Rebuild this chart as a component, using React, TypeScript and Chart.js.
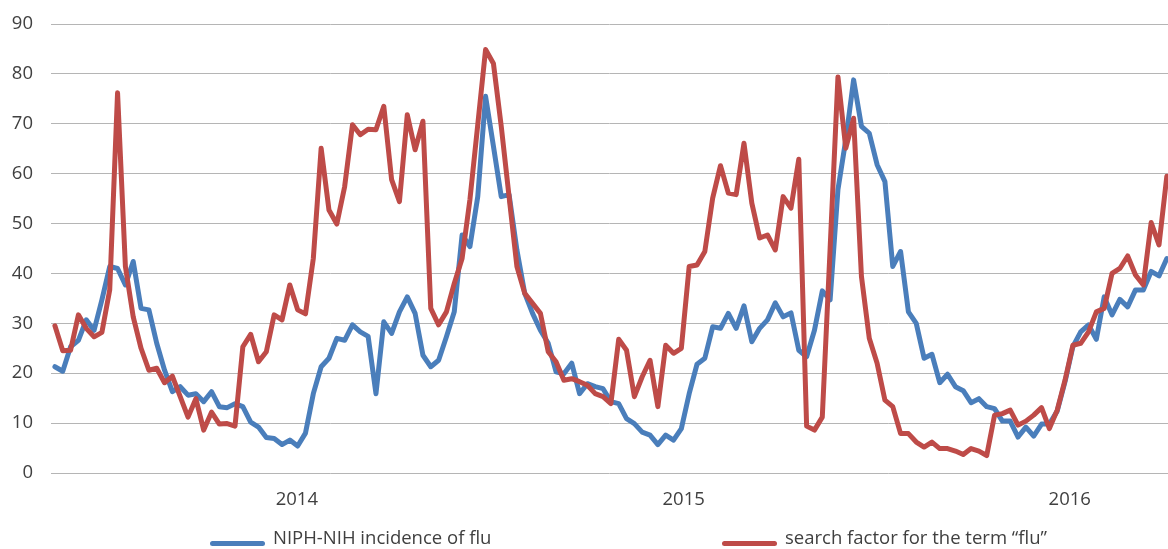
import React, { useEffect, useRef } from "react";
import { Chart, registerables } from "chart.js";

Chart.register(...registerables);

// Weekly values
const incidence: number[] = [
  21.3, 20.4, 25.3, 26.6, 30.7, 28.6, 34.7, 41.4, 41.0, 37.7,
  42.4, 33.0, 32.7, 26.0, 20.6, 16.3, 17.3, 15.6, 15.9, 14.3,
  16.3, 13.3, 13.1, 13.9, 13.3, 10.2, 9.2, 7.1, 6.9, 5.7,
  6.6, 5.4, 8.0, 15.9, 21.3, 23.0, 27.0, 26.6, 29.7, 28.3,
  27.4, 15.9, 30.3, 28.0, 32.3, 35.3, 32.0, 23.6, 21.3, 22.6,
  27.3, 32.3, 47.7, 45.4, 55.4, 75.5, 65.5, 55.4, 55.8, 44.7,
  36.0, 32.0, 28.6, 26.0, 20.3, 19.9, 22.0, 15.9, 17.9, 17.3,
  16.9, 14.3, 13.9, 10.9, 9.9, 8.2, 7.6, 5.7, 7.6, 6.6,
  8.9, 15.9, 21.8, 23.0, 29.3, 29.0, 32.0, 29.0, 33.5, 26.3,
  29.0, 30.7, 34.1, 31.3, 32.1, 24.6, 23.3, 28.6, 36.5, 34.7,
  56.8, 66.8, 78.8, 69.5, 68.1, 61.8, 58.4, 41.4, 44.4, 32.3,
  30.0, 23.0, 23.8, 18.1, 19.8, 17.3, 16.5, 14.1, 14.9, 13.3,
  12.9, 10.4, 10.4, 7.2, 9.2, 7.4, 9.8, 9.8, 12.4, 18.3,
  25.3, 28.3, 29.7, 26.8, 35.3, 31.7, 34.8, 33.3, 36.7, 36.7,
  40.4, 39.5, 43.0,
];

const searchFactor: number[] = [
  29.5, 24.5, 24.6, 31.7, 29.0, 27.3, 28.2, 36.7, 76.2, 41.4,
  31.3, 25.0, 20.6, 21.0, 18.1, 19.4, 15.3, 11.2, 14.9, 8.6,
  12.2, 9.8, 9.9, 9.4, 25.3, 27.8, 22.3, 24.3, 31.7, 30.7,
  37.7, 32.7, 31.9, 43.0, 65.1, 52.7, 49.9, 57.4, 69.8, 67.8,
  68.9, 68.8, 73.5, 58.8, 54.4, 71.8, 64.8, 70.5, 33.0, 29.7,
  32.3, 38.0, 43.0, 54.8, 69.8, 84.9, 82.1, 69.5, 55.4, 41.4,
  36.0, 34.0, 32.0, 24.3, 22.3, 18.6, 18.9, 18.3, 17.6, 15.9,
  15.3, 13.9, 26.8, 24.6, 15.3, 19.3, 22.6, 13.3, 25.6, 24.0,
  25.0, 41.4, 41.7, 44.4, 55.1, 61.6, 56.1, 55.8, 66.1, 54.1,
  47.1, 47.7, 44.7, 55.4, 53.1, 62.9, 9.4, 8.6, 11.2, 45.0,
  79.4, 65.1, 71.1, 39.4, 27.0, 22.0, 14.6, 13.3, 7.9, 7.9,
  6.2, 5.2, 6.2, 4.9, 4.9, 4.4, 3.7, 4.9, 4.4, 3.5,
  11.6, 11.9, 12.6, 9.6, 10.4, 11.6, 13.1, 8.9, 12.6, 18.6,
  25.6, 26.0, 28.3, 32.3, 33.0, 40.0, 41.0, 43.5, 39.7, 37.7,
  50.2, 45.7, 59.5,
];

// Year tick labels and where they sit, in week-index units
const yearLabels: string[] = ["2014", "2015", "2016"];
const yearLabelWeek: number[] = [30.9, 80.3, 129.6];

const seriesNames: string[] = ["NIPH-NIH incidence of flu", "search factor for the term \u201cflu\u201d"];
const seriesColors: string[] = ["#4A7EBB", "#BE4B48"];

const FONT = "'Open Sans', 'Liberation Sans', sans-serif";
const TEXT = "#404040";

export default function App() {
  const canvasRef = useRef<HTMLCanvasElement | null>(null);

  useEffect(() => {
    const canvas = canvasRef.current;
    if (!canvas) return;
    const toPoints = (arr: number[]) => arr.map((y, i) => ({ x: i, y }));
    const chart = new Chart(canvas, {
      type: "line",
      data: {
        datasets: [
          {
            label: seriesNames[0],
            data: toPoints(incidence),
            borderColor: seriesColors[0],
            backgroundColor: seriesColors[0],
            borderWidth: 5,
            borderJoinStyle: "round",
            borderCapStyle: "round",
            pointRadius: 0,
            tension: 0,
            order: 2,
          },
          {
            label: seriesNames[1],
            data: toPoints(searchFactor),
            borderColor: seriesColors[1],
            backgroundColor: seriesColors[1],
            borderWidth: 5,
            borderJoinStyle: "round",
            borderCapStyle: "round",
            pointRadius: 0,
            tension: 0,
            order: 1,
          },
        ],
      },
      options: {
        animation: false,
        responsive: false,
        layout: { padding: { top: 24, right: 0, bottom: 30, left: 0 } },
        plugins: {
          legend: { display: false },
          tooltip: { enabled: false },
        },
        scales: {
          x: {
            type: "linear",
            min: -0.5,
            max: 142.15,
            grid: { display: false, drawTicks: false },
            border: { display: false },
            afterBuildTicks: (scale: any) => {
              scale.ticks = yearLabelWeek.map((v) => ({ value: v }));
            },
            afterFit: (scale: any) => {
              scale.height = 46;
            },
            ticks: {
              autoSkip: false,
              maxRotation: 0,
              padding: 16,
              color: TEXT,
              font: { family: FONT, size: 18.5 },
              callback: (_v: any, index: number) => yearLabels[index],
            },
          },
          y: {
            min: 0,
            max: 90,
            grid: {
              color: "#b5b5b5",
              lineWidth: 1,
              drawTicks: true,
              tickLength: 18,
              tickColor: "rgba(0,0,0,0)",
            },
            border: { display: false },
            afterFit: (scale: any) => {
              scale.width = 51;
            },
            ticks: {
              stepSize: 10,
              padding: 0,
              color: TEXT,
              font: { family: FONT, size: 18.5 },
            },
          },
        },
      },
    } as any);
    return () => chart.destroy();
  }, []);

  const legendLeft = [210, 722];

  return (
    <div
      style={{
        position: "fixed",
        left: 0,
        top: 0,
        width: 1168,
        height: 549,
        background: "#ffffff",
        overflow: "hidden",
      }}
    >
      <canvas ref={canvasRef} width={1168} height={549} style={{ display: "block" }} />
      {seriesNames.map((name, i) => (
        <div
          key={name}
          style={{
            position: "absolute",
            left: legendLeft[i],
            top: 524,
            height: 26,
            display: "flex",
            alignItems: "flex-start",
            fontFamily: FONT,
            fontSize: 18.5,
            lineHeight: "26px",
            color: TEXT,
            whiteSpace: "nowrap",
          }}
        >
          <span
            style={{
              display: "inline-block",
              width: 55,
              height: 5,
              borderRadius: 3,
              background: seriesColors[i],
              marginRight: 8,
              marginTop: 16.5,
            }}
          />
          <span>{name}</span>
        </div>
      ))}
    </div>
  );
}
